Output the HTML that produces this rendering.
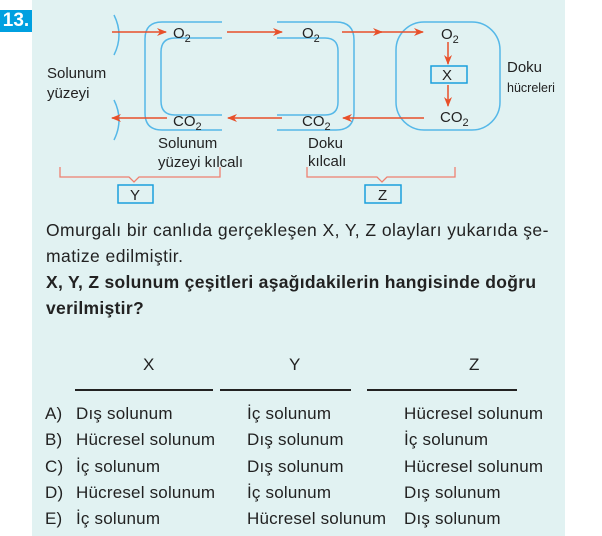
<!DOCTYPE html>
<html><head><meta charset="utf-8"><style>
body{margin:0;width:602px;height:536px;background:#fff;overflow:hidden;position:relative;font-family:"Liberation Sans",Arial,sans-serif;color:#222}
.bg{position:absolute;left:32px;top:0;width:533px;height:536px;background:#e1f2f2}
.num{position:absolute;left:0;top:10px;width:32px;height:22px;background:#00a0e0;color:#fff;font-weight:bold;font-size:19px;line-height:22px;text-align:center}
.t{position:absolute;font-size:17.5px;letter-spacing:0.45px;white-space:nowrap}
.r{position:absolute;font-size:17px;letter-spacing:0.2px;white-space:nowrap}
</style></head><body>
<div class="bg"></div>
<div class="num">13.</div>
<svg width="602" height="210" style="position:absolute;left:0;top:0" font-family="Liberation Sans,Arial,sans-serif">
<defs><marker id="a" markerWidth="10" markerHeight="8" refX="9" refY="4" orient="auto" markerUnits="userSpaceOnUse"><path d="M0,0 L10,4 L0,8 L3,4z" fill="#e8502a"/></marker></defs>
<g fill="none" stroke="#55b8e8" stroke-width="1.5">
<path d="M114,15 Q124,35 114,55"/><path d="M114,100 Q124,120 114,140"/>
<path d="M222,22 H162 Q145,22 145,39 V113 Q145,130 162,130 H222"/>
<path d="M222,38 H175 Q161,38 161,52 V101 Q161,115 175,115 H222"/>
<path d="M277,22 H336 Q354,22 354,40 V112 Q354,130 336,130 H277"/>
<path d="M277,38 H325 Q338,38 338,51 V102 Q338,115 325,115 H277"/>
<rect x="396" y="22" width="104" height="108" rx="28"/>
<rect x="431" y="66" width="36" height="17" stroke="#1aa0dc"/>
<rect x="118" y="185" width="35" height="18" stroke="#1aa0dc"/>
<rect x="365" y="185" width="36" height="18" stroke="#1aa0dc"/>
</g>
<g stroke="#e8502a" stroke-width="1.5" fill="none">
<line x1="112" y1="32" x2="166" y2="32" marker-end="url(#a)"/>
<line x1="227" y1="32" x2="282" y2="32" marker-end="url(#a)"/>
<line x1="342" y1="32" x2="382" y2="32" marker-end="url(#a)"/>
<line x1="380" y1="32" x2="423" y2="32" marker-end="url(#a)"/>
<line x1="448" y1="42" x2="448" y2="64" marker-end="url(#a)"/>
<line x1="448" y1="85" x2="448" y2="106" marker-end="url(#a)"/>
<line x1="424" y1="118" x2="343" y2="118" marker-end="url(#a)"/>
<line x1="282" y1="118" x2="228" y2="118" marker-end="url(#a)"/>
<line x1="167" y1="118" x2="112" y2="118" marker-end="url(#a)"/>
</g>
<g stroke="#ee8070" stroke-width="1.3" fill="none">
<path d="M60,167 V177 H129 L134,182 L139,177 H220 V167"/>
<path d="M307,167 V177 H377 L382,182 L387,177 H455 V167"/>
</g>
<g fill="#222" font-size="15">
<text x="173" y="38">O<tspan font-size="11" dy="4">2</tspan></text>
<text x="302" y="38">O<tspan font-size="11" dy="4">2</tspan></text>
<text x="441" y="39">O<tspan font-size="11" dy="4">2</tspan></text>
<text x="173" y="126">CO<tspan font-size="11" dy="4">2</tspan></text>
<text x="302" y="126">CO<tspan font-size="11" dy="4">2</tspan></text>
<text x="440" y="122">CO<tspan font-size="11" dy="4">2</tspan></text>
<text x="442" y="80">X</text>
<text x="130" y="200">Y</text>
<text x="378" y="200">Z</text>
<text x="47" y="78">Solunum</text>
<text x="47" y="98">yüzeyi</text>
<text x="158" y="148">Solunum</text>
<text x="158" y="167">yüzeyi kılcalı</text>
<text x="308" y="148">Doku</text>
<text x="308" y="166">kılcalı</text>
<text x="507" y="72">Doku</text>
<text x="507" y="92" font-size="12.5">hücreleri</text>
</g>
</svg>
<div class="t" style="left:46px;top:220px">Omurgalı bir canlıda gerçekleşen X, Y, Z olayları yukarıda şe-</div>
<div class="t" style="left:46px;top:246px">matize edilmiştir.</div>
<div class="t" style="left:46px;top:272px;font-weight:bold;letter-spacing:0.3px">X, Y, Z solunum çeşitleri aşağıdakilerin hangisinde doğru</div>
<div class="t" style="left:46px;top:298px;font-weight:bold;letter-spacing:0.3px">verilmiştir?</div>
<div class="r" style="left:143px;top:355px">X</div>
<div class="r" style="left:289px;top:355px">Y</div>
<div class="r" style="left:469px;top:355px">Z</div>
<div style="position:absolute;left:75px;top:389px;width:138px;height:2px;background:#222"></div>
<div style="position:absolute;left:220px;top:389px;width:131px;height:2px;background:#222"></div>
<div style="position:absolute;left:367px;top:389px;width:150px;height:2px;background:#222"></div>
<div class="r" style="left:45px;top:404px">A)</div><div class="r" style="left:76px;top:404px">Dış solunum</div><div class="r" style="left:247px;top:404px">İç solunum</div><div class="r" style="left:404px;top:404px">Hücresel solunum</div>
<div class="r" style="left:45px;top:430px">B)</div><div class="r" style="left:76px;top:430px">Hücresel solunum</div><div class="r" style="left:247px;top:430px">Dış solunum</div><div class="r" style="left:404px;top:430px">İç solunum</div>
<div class="r" style="left:45px;top:457px">C)</div><div class="r" style="left:76px;top:457px">İç solunum</div><div class="r" style="left:247px;top:457px">Dış solunum</div><div class="r" style="left:404px;top:457px">Hücresel solunum</div>
<div class="r" style="left:45px;top:483px">D)</div><div class="r" style="left:76px;top:483px">Hücresel solunum</div><div class="r" style="left:247px;top:483px">İç solunum</div><div class="r" style="left:404px;top:483px">Dış solunum</div>
<div class="r" style="left:45px;top:509px">E)</div><div class="r" style="left:76px;top:509px">İç solunum</div><div class="r" style="left:247px;top:509px">Hücresel solunum</div><div class="r" style="left:404px;top:509px">Dış solunum</div>
</body></html>
